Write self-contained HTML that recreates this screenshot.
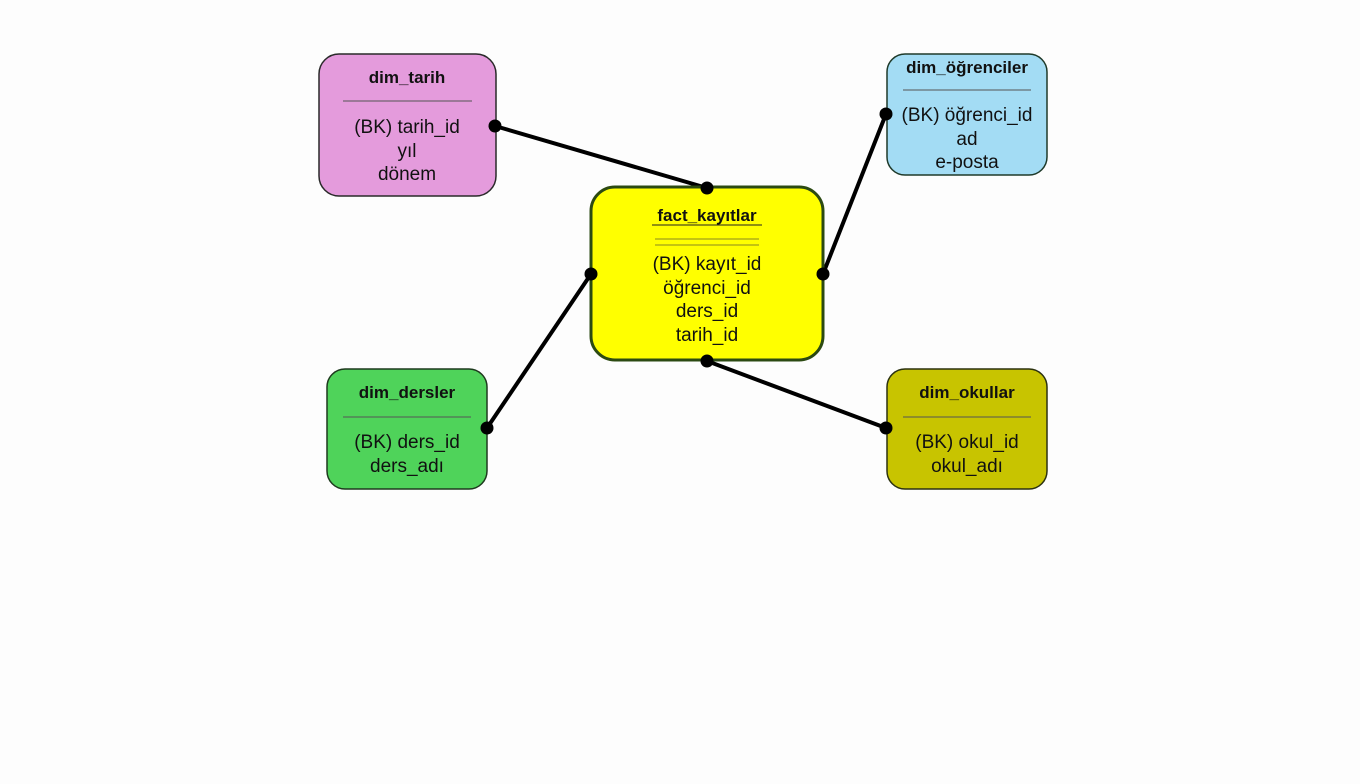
<!DOCTYPE html>
<html><head><meta charset="utf-8"><style>
html,body{margin:0;padding:0;background:#fff;}
svg{display:block;}
text{font-family:"Liberation Sans",sans-serif;fill:#111;text-anchor:middle;}
.t{font-weight:bold;font-size:17px;}
.r{font-size:19px;}
</style></head><body>
<svg width="1360" height="784" viewBox="0 0 1360 784">
<rect width="1360" height="784" fill="#fdfdfd"/>
<g stroke="#000" stroke-width="4">
<line x1="495" y1="126" x2="707" y2="188"/>
<line x1="886" y1="114" x2="823" y2="274"/>
<line x1="591" y1="274" x2="487" y2="428"/>
<line x1="707" y1="361" x2="886" y2="428"/>
</g>
<rect x="319" y="54" width="177" height="142" rx="20" fill="#e49bdc" stroke="#2a2a2a" stroke-width="1.5"/>
<rect x="887" y="54" width="160" height="121" rx="18" fill="#a3dcf4" stroke="#1f3a2a" stroke-width="1.5"/>
<rect x="591" y="187" width="232" height="173" rx="24" fill="#ffff00" stroke="#2c4a12" stroke-width="3"/>
<rect x="327" y="369" width="160" height="120" rx="18" fill="#4fd35a" stroke="#1e3a1e" stroke-width="1.5"/>
<rect x="887" y="369" width="160" height="120" rx="18" fill="#c8c400" stroke="#2c3210" stroke-width="1.5"/>
<g stroke="#555" stroke-width="1">
<line x1="343" y1="101" x2="472" y2="101"/>
<line x1="903" y1="90" x2="1031" y2="90"/>
<line x1="343" y1="417" x2="471" y2="417"/>
<line x1="903" y1="417" x2="1031" y2="417"/>
<line x1="655" y1="239" x2="759" y2="239" stroke="#8a8a20"/>
<line x1="655" y1="245" x2="759" y2="245" stroke="#8a8a20"/>
<line x1="652" y1="225" x2="762" y2="225" stroke="#222"/>
</g>
<text class="t" x="407" y="83">dim_tarih</text>
<text class="r" x="407" y="133">(BK) tarih_id</text>
<text class="r" x="407" y="157">yıl</text>
<text class="r" x="407" y="180">dönem</text>

<text class="t" x="967" y="73">dim_öğrenciler</text>
<text class="r" x="967" y="121">(BK) öğrenci_id</text>
<text class="r" x="967" y="145">ad</text>
<text class="r" x="967" y="168">e-posta</text>

<text class="t" x="707" y="221">fact_kayıtlar</text>
<text class="r" x="707" y="270">(BK) kayıt_id</text>
<text class="r" x="707" y="294">öğrenci_id</text>
<text class="r" x="707" y="317">ders_id</text>
<text class="r" x="707" y="341">tarih_id</text>

<text class="t" x="407" y="398">dim_dersler</text>
<text class="r" x="407" y="448">(BK) ders_id</text>
<text class="r" x="407" y="472">ders_adı</text>

<text class="t" x="967" y="398">dim_okullar</text>
<text class="r" x="967" y="448">(BK) okul_id</text>
<text class="r" x="967" y="472">okul_adı</text>
<g fill="#000">
<circle cx="495" cy="126" r="6.5"/><circle cx="707" cy="188" r="6.5"/>
<circle cx="886" cy="114" r="6.5"/><circle cx="823" cy="274" r="6.5"/>
<circle cx="591" cy="274" r="6.5"/><circle cx="487" cy="428" r="6.5"/>
<circle cx="707" cy="361" r="6.5"/><circle cx="886" cy="428" r="6.5"/>
</g>
</svg>
</body></html>
